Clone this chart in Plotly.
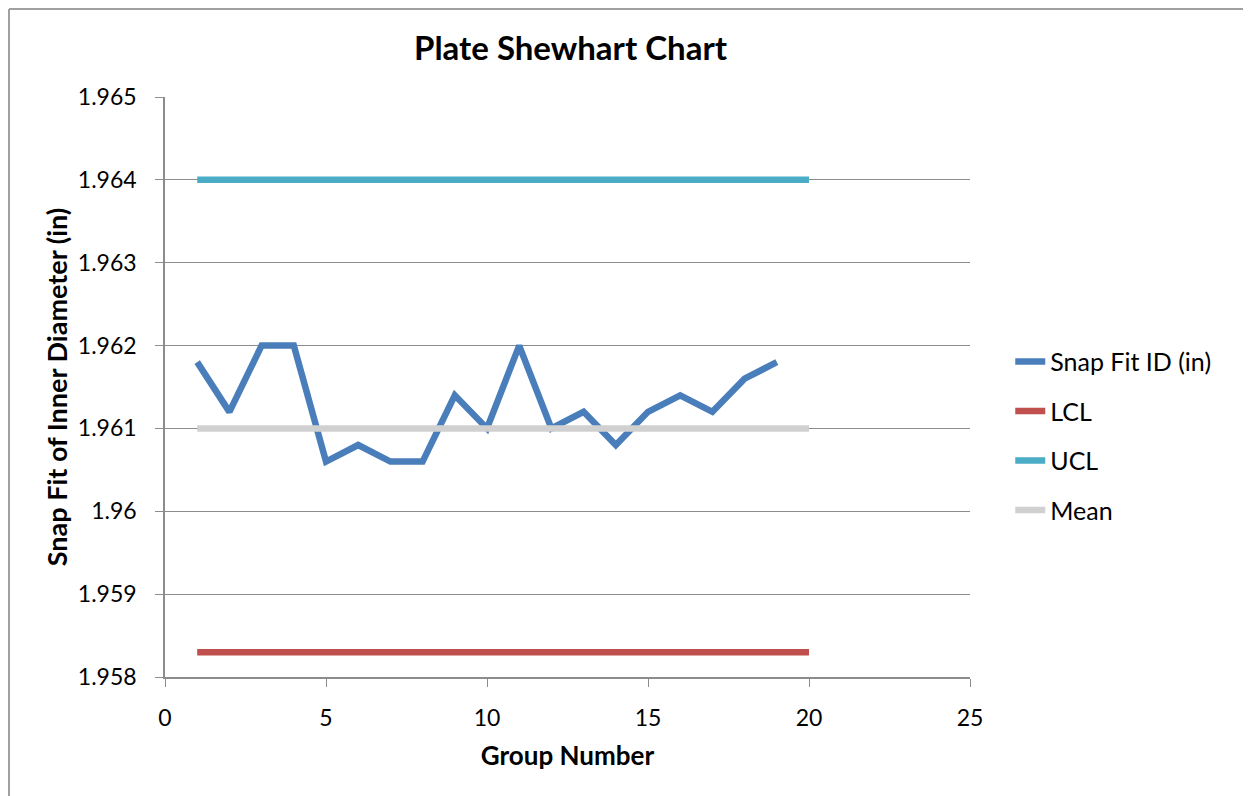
import plotly.graph_objects as go

groups = list(range(1, 20))
snap_fit = [1.9618, 1.9612, 1.962, 1.962, 1.9606, 1.9608, 1.9606, 1.9606, 1.9614, 1.961,
            1.962, 1.961, 1.9612, 1.9608, 1.9612, 1.9614, 1.9612, 1.9616, 1.9618]
limit_x = [1, 20]
lcl = [1.9583, 1.9583]
ucl = [1.964, 1.964]
mean = [1.961, 1.961]
y_ticks = [1.958, 1.959, 1.96, 1.961, 1.962, 1.963, 1.964, 1.965]
y_labels = ["1.958", "1.959", "1.96", "1.961", "1.962", "1.963", "1.964", "1.965"]

font = "Lato, 'Open Sans', sans-serif"

fig = go.Figure()
fig.add_trace(go.Scatter(x=groups, y=snap_fit, mode="lines", name="Snap Fit ID (in)",
                         line=dict(color="#4a7ebb", width=6.5), legendgroup="a"))
fig.add_trace(go.Scatter(x=limit_x, y=lcl, mode="lines", name="LCL",
                         line=dict(color="#c0504d", width=6.5), legendgroup="b"))
fig.add_trace(go.Scatter(x=limit_x, y=ucl, mode="lines", name="UCL",
                         line=dict(color="#4bacc6", width=6.5), legendgroup="c"))
fig.add_trace(go.Scatter(x=limit_x, y=mean, mode="lines", name="Mean",
                         line=dict(color="#d0d0d0", width=6.5), legendgroup="d"))

fig.update_layout(
    width=1243, height=788,
    margin=dict(l=157, r=281, t=89, b=119),
    paper_bgcolor="white", plot_bgcolor="white",
    font=dict(family=font, size=23, color="black"),
    title=dict(text="<b>Plate Shewhart Chart</b>", x=(157 + 805 / 2 + 3) / 1243, xanchor="center",
               y=1 - 40 / 788, yanchor="middle", font=dict(size=33)),
    legend=dict(x=1.05, xanchor="left", y=0.583, yanchor="top", tracegroupgap=14,
                font=dict(size=25), bgcolor="rgba(0,0,0,0)"),
    xaxis=dict(range=[0, 25], tickvals=[0, 5, 10, 15, 20, 25], showgrid=False,
               showline=True, linecolor="#8c8c8c", linewidth=1.5,
               ticks="outside", ticklen=8, tickcolor="#8c8c8c", ticklabelstandoff=12,
               title=dict(text="<b>Group Number</b>", standoff=16, font=dict(size=26)),
               zeroline=False),
    yaxis=dict(range=[1.958, 1.965], tickvals=y_ticks, ticktext=y_labels,
               showgrid=True, gridcolor="#8c8c8c", gridwidth=1,
               showline=True, linecolor="#8c8c8c", linewidth=1.5,
               ticks="outside", ticklen=8, tickcolor="#8c8c8c", ticklabelstandoff=14,
               title=dict(text="<b>Snap Fit of Inner Diameter (in)</b>", standoff=2, font=dict(size=27)),
               zeroline=False),
)

# chart-area border (top and left edges, as in the reference)
fig.add_shape(type="line", xref="paper", yref="paper",
              x0=(1 - 157) / 805, x1=(1243 - 157) / 805,
              y0=(669 - 1) / 580, y1=(669 - 1) / 580,
              line=dict(color="#a0a0a0", width=2))
fig.add_shape(type="line", xref="paper", yref="paper",
              x0=(1 - 157) / 805, x1=(1 - 157) / 805,
              y0=(669 - 1) / 580, y1=(669 - 788) / 580,
              line=dict(color="#a0a0a0", width=2))

fig.write_html("out.html")
